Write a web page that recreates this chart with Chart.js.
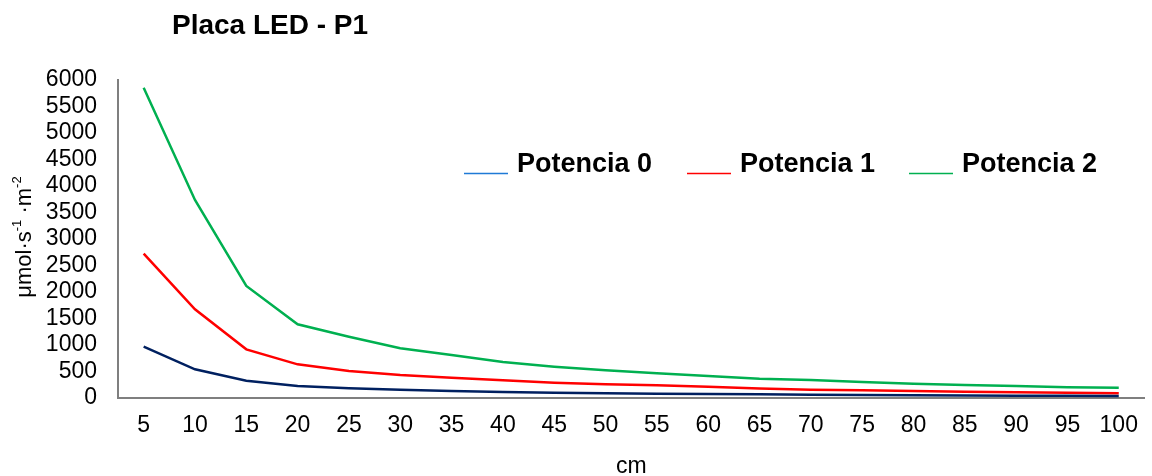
<!DOCTYPE html>
<html>
<head>
<meta charset="utf-8">
<script src="https://cdn.jsdelivr.net/npm/chart.js@4"></script>
<style>
  html, body { margin: 0; padding: 0; background: #fff; }
  #wrap { width: 1152px; height: 476px; position: relative; }
</style>
</head>
<body>
<div id="wrap"><canvas id="chart"></canvas></div>
<script>
const distances = ['5','10','15','20','25','30','35','40','45','50','55','60','65','70','75','80','85','90','95','100'];
const potencia0 = [968, 541, 327, 226, 182, 155, 132, 113, 100, 88, 81, 75, 70, 60, 55, 50, 47, 44, 41, 38];
const potencia1 = [2723, 1673, 918, 635, 509, 434, 383, 333, 289, 258, 239, 214, 180, 157, 145, 132, 119, 107, 100, 88];
const potencia2 = [5855, 3736, 2113, 1390, 1157, 940, 811, 679, 591, 522, 465, 415, 365, 340, 302, 270, 245, 226, 202, 192];
const seriesNames = ['Potencia 0', 'Potencia 1', 'Potencia 2'];
const yTicks = [0, 500, 1000, 1500, 2000, 2500, 3000, 3500, 4000, 4500, 5000, 5500, 6000];

const FONT = '"Liberation Sans", Arial, sans-serif';
const lineColors = ['#002060', '#FF0000', '#00B050'];
const legendColors = ['#1F7AD6', '#FF0000', '#00B050'];

// title, legend and y title drawn by hand (superscripts, odd legend marks)
const extras = {
  id: 'extras',
  afterDraw(chart) {
    const ctx = chart.ctx;
    ctx.save();
    ctx.fillStyle = '#000';
    ctx.textBaseline = 'middle';
    ctx.textAlign = 'left';
    ctx.font = 'bold 28px ' + FONT;
    ctx.fillText('Placa LED - P1', 172, 26);

    // legend
    const startX = [464, 687, 909];
    ctx.font = 'bold 27px ' + FONT;
    ctx.textBaseline = 'alphabetic';
    seriesNames.forEach((name, i) => {
      ctx.strokeStyle = legendColors[i];
      ctx.lineWidth = 1.5;
      ctx.beginPath();
      ctx.moveTo(startX[i], 173.5);
      ctx.lineTo(startX[i] + 44, 173.5);
      ctx.stroke();
      ctx.fillStyle = '#000';
      ctx.fillText(name, startX[i] + 53, 172);
    });

    // y axis title
    ctx.translate(25, 237);
    ctx.rotate(-Math.PI / 2);
    const parts = [
      ['μmol·s', 22, 0], ['-1', 13, -8], [' ·m', 22, 0], ['-2', 13, -8]
    ];
    let total = 0;
    parts.forEach(p => { ctx.font = p[1] + 'px ' + FONT; total += ctx.measureText(p[0]).width; });
    let x = -total / 2;
    ctx.textBaseline = 'middle';
    parts.forEach(p => {
      ctx.font = p[1] + 'px ' + FONT;
      ctx.fillText(p[0], x, p[2]);
      x += ctx.measureText(p[0]).width;
    });
    ctx.restore();
  }
};

const mkSet = (label, data, color) => ({
  label, data,
  borderColor: color,
  backgroundColor: color,
  borderWidth: 2.5,
  pointRadius: 0,
  tension: 0,
  fill: false
});

new Chart(document.getElementById('chart'), {
  type: 'line',
  data: {
    labels: distances,
    datasets: [
      mkSet(seriesNames[0], potencia0, lineColors[0]),
      mkSet(seriesNames[1], potencia1, lineColors[1]),
      mkSet(seriesNames[2], potencia2, lineColors[2])
    ]
  },
  options: {
    responsive: true,
    maintainAspectRatio: false,
    animation: false,
    layout: { padding: { top: 80, right: 2, left: 0, bottom: 0 } },
    plugins: {
      legend: { display: false },
      tooltip: { enabled: false }
    },
    scales: {
      x: {
        offset: true,
        grid: { display: false, drawTicks: false },
        border: { color: '#7F7F7F', width: 2 },
        ticks: { color: '#000', font: { family: FONT, size: 23 }, padding: 14, maxRotation: 0, autoSkip: false },
        title: { display: true, text: 'cm', color: '#000', font: { family: FONT, size: 23, lineHeight: 1 }, padding: { top: 0, bottom: -2 } },
        afterFit(scale) { scale.height = 78; }
      },
      y: {
        min: 0,
        max: 6000,
        grid: { display: false, drawTicks: false },
        border: { color: '#7F7F7F', width: 2 },
        afterBuildTicks(scale) { scale.ticks = yTicks.map(v => ({ value: v })); },
        ticks: {
          color: '#000',
          font: { family: FONT, size: 23, lineHeight: 1 },
          padding: 21,
          autoSkip: false,
          callback: v => String(v)
        },
        afterFit(scale) { scale.width = 118; }
      }
    }
  },
  plugins: [extras]
});
</script>
</body>
</html>
